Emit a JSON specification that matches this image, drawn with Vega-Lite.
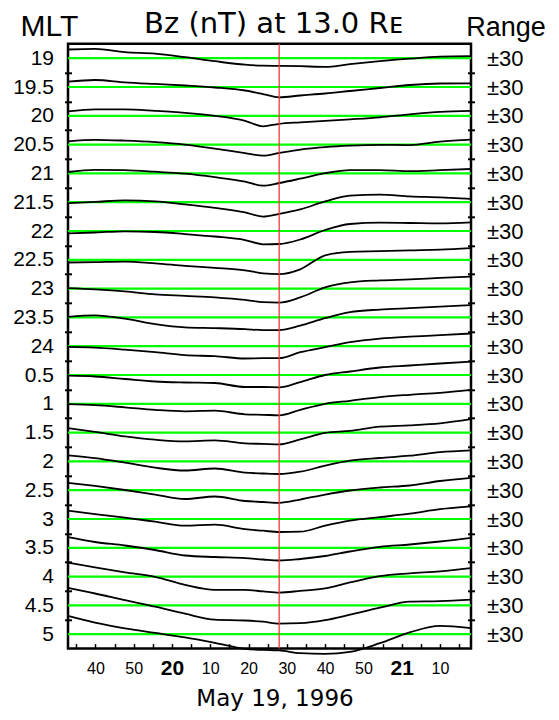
{
  "$schema": "https://vega.github.io/schema/vega-lite/v6.json",
  "width": 403,
  "height": 604.8,
  "autosize": "none",
  "padding": {"left": 68, "top": 43.8, "right": 88, "bottom": 71.4},
  "background": "white",
  "config": {"view": {"stroke": "black", "strokeWidth": 2.5}, "axis": {"grid": false}},
  "title": {"text": "Bz (nT) at 13.0 R\u1d07", "font": "DejaVu Sans", "fontSize": 29, "fontWeight": "normal", "color": "black", "anchor": "middle", "frame": "group", "dx": 4, "offset": 8, "dy": 36},
  "datasets": {
    "rows": [{"mlt":19},{"mlt":19.5},{"mlt":20},{"mlt":20.5},{"mlt":21},{"mlt":21.5},{"mlt":22},{"mlt":22.5},{"mlt":23},{"mlt":23.5},{"mlt":24},{"mlt":0.5},{"mlt":1},{"mlt":1.5},{"mlt":2},{"mlt":2.5},{"mlt":3},{"mlt":3.5},{"mlt":4},{"mlt":4.5},{"mlt":5}],
    "events": [{"min": 88.0}],
    "bz": [
{"mlt":19,"min":32.85,"bz":18.1},{"mlt":19,"min":39.9,"bz":19.4},{"mlt":19,"min":47.7,"bz":12.5},{"mlt":19,"min":55.6,"bz":9.4},{"mlt":19,"min":63.4,"bz":2.1},{"mlt":19,"min":71.2,"bz":-6.3},{"mlt":19,"min":79.1,"bz":-13.5},{"mlt":19,"min":83.8,"bz":-15.6},{"mlt":19,"min":88.0,"bz":-16.0},{"mlt":19,"min":93.5,"bz":-16.7},{"mlt":19,"min":100.0,"bz":-18.1},{"mlt":19,"min":106.5,"bz":-12.5},{"mlt":19,"min":114.3,"bz":-6.3},{"mlt":19,"min":122.1,"bz":-1.0},{"mlt":19,"min":130.0,"bz":3.1},{"mlt":19,"min":138.1,"bz":4.2},
{"mlt":19.5,"min":32.85,"bz":11.0},{"mlt":19.5,"min":39.9,"bz":14.6},{"mlt":19.5,"min":47.7,"bz":9.8},{"mlt":19.5,"min":55.6,"bz":6.3},{"mlt":19.5,"min":63.4,"bz":3.1},{"mlt":19.5,"min":71.2,"bz":-1.0},{"mlt":19.5,"min":79.1,"bz":-7.3},{"mlt":19.5,"min":83.8,"bz":-14.6},{"mlt":19.5,"min":88.0,"bz":-21.5},{"mlt":19.5,"min":93.5,"bz":-17.7},{"mlt":19.5,"min":100.0,"bz":-13.5},{"mlt":19.5,"min":106.5,"bz":-8.3},{"mlt":19.5,"min":114.3,"bz":-2.1},{"mlt":19.5,"min":122.1,"bz":4.2},{"mlt":19.5,"min":130.0,"bz":7.3},{"mlt":19.5,"min":138.1,"bz":7.7},
{"mlt":20,"min":32.85,"bz":9.0},{"mlt":20,"min":39.9,"bz":13.5},{"mlt":20,"min":47.7,"bz":13.5},{"mlt":20,"min":55.6,"bz":10.4},{"mlt":20,"min":63.4,"bz":6.3},{"mlt":20,"min":71.2,"bz":0.0},{"mlt":20,"min":79.1,"bz":-10.4},{"mlt":20,"min":83.8,"bz":-21.9},{"mlt":20,"min":88.0,"bz":-16.7},{"mlt":20,"min":93.5,"bz":-13.5},{"mlt":20,"min":100.0,"bz":-10.4},{"mlt":20,"min":106.5,"bz":-7.3},{"mlt":20,"min":114.3,"bz":-3.1},{"mlt":20,"min":122.1,"bz":3.1},{"mlt":20,"min":130.0,"bz":8.3},{"mlt":20,"min":138.1,"bz":10.4},
{"mlt":20.5,"min":32.85,"bz":6.9},{"mlt":20.5,"min":39.9,"bz":10.0},{"mlt":20.5,"min":47.7,"bz":8.3},{"mlt":20.5,"min":55.6,"bz":5.2},{"mlt":20.5,"min":63.4,"bz":0.0},{"mlt":20.5,"min":71.2,"bz":-8.3},{"mlt":20.5,"min":79.1,"bz":-17.7},{"mlt":20.5,"min":83.8,"bz":-22.9},{"mlt":20.5,"min":88.0,"bz":-17.3},{"mlt":20.5,"min":93.5,"bz":-10.4},{"mlt":20.5,"min":100.0,"bz":-5.2},{"mlt":20.5,"min":106.5,"bz":-2.1},{"mlt":20.5,"min":114.3,"bz":-0.4},{"mlt":20.5,"min":122.1,"bz":-1.0},{"mlt":20.5,"min":130.0,"bz":6.3},{"mlt":20.5,"min":138.1,"bz":10.4},
{"mlt":21,"min":32.85,"bz":2.9},{"mlt":21,"min":39.9,"bz":7.3},{"mlt":21,"min":47.7,"bz":6.7},{"mlt":21,"min":55.6,"bz":3.5},{"mlt":21,"min":63.4,"bz":-0.6},{"mlt":21,"min":71.2,"bz":-7.9},{"mlt":21,"min":79.1,"bz":-17.3},{"mlt":21,"min":83.8,"bz":-25.6},{"mlt":21,"min":88.0,"bz":-20.0},{"mlt":21,"min":93.5,"bz":-11.0},{"mlt":21,"min":100.0,"bz":0.4},{"mlt":21,"min":106.5,"bz":6.7},{"mlt":21,"min":114.3,"bz":6.7},{"mlt":21,"min":122.1,"bz":4.6},{"mlt":21,"min":130.0,"bz":6.7},{"mlt":21,"min":138.1,"bz":9.2},
{"mlt":21.5,"min":32.85,"bz":-2.1},{"mlt":21.5,"min":39.9,"bz":0.6},{"mlt":21.5,"min":47.7,"bz":3.8},{"mlt":21.5,"min":55.6,"bz":1.7},{"mlt":21.5,"min":63.4,"bz":-4.6},{"mlt":21.5,"min":71.2,"bz":-11.9},{"mlt":21.5,"min":79.1,"bz":-21.3},{"mlt":21.5,"min":83.8,"bz":-30.0},{"mlt":21.5,"min":88.0,"bz":-24.4},{"mlt":21.5,"min":93.5,"bz":-15.0},{"mlt":21.5,"min":100.0,"bz":1.7},{"mlt":21.5,"min":106.5,"bz":13.8},{"mlt":21.5,"min":114.3,"bz":15.6},{"mlt":21.5,"min":122.1,"bz":12.1},{"mlt":21.5,"min":130.0,"bz":10.0},{"mlt":21.5,"min":138.1,"bz":6.9},
{"mlt":22,"min":32.85,"bz":-4.8},{"mlt":22,"min":39.9,"bz":-3.1},{"mlt":22,"min":47.7,"bz":-0.6},{"mlt":22,"min":55.6,"bz":-2.1},{"mlt":22,"min":63.4,"bz":-6.3},{"mlt":22,"min":71.2,"bz":-11.5},{"mlt":22,"min":79.1,"bz":-18.8},{"mlt":22,"min":83.8,"bz":-27.7},{"mlt":22,"min":88.0,"bz":-27.1},{"mlt":22,"min":93.5,"bz":-17.7},{"mlt":22,"min":100.0,"bz":2.1},{"mlt":22,"min":106.5,"bz":14.6},{"mlt":22,"min":114.3,"bz":17.3},{"mlt":22,"min":122.1,"bz":16.7},{"mlt":22,"min":130.0,"bz":16.0},{"mlt":22,"min":138.1,"bz":18.1},
{"mlt":22.5,"min":32.85,"bz":-5.6},{"mlt":22.5,"min":39.9,"bz":-4.8},{"mlt":22.5,"min":47.7,"bz":-3.8},{"mlt":22.5,"min":55.6,"bz":-7.3},{"mlt":22.5,"min":63.4,"bz":-12.5},{"mlt":22.5,"min":71.2,"bz":-16.7},{"mlt":22.5,"min":79.1,"bz":-21.9},{"mlt":22.5,"min":83.8,"bz":-28.1},{"mlt":22.5,"min":88.0,"bz":-29.8},{"mlt":22.5,"min":93.5,"bz":-19.8},{"mlt":22.5,"min":100.0,"bz":9.4},{"mlt":22.5,"min":106.5,"bz":16.7},{"mlt":22.5,"min":114.3,"bz":18.1},{"mlt":22.5,"min":122.1,"bz":19.8},{"mlt":22.5,"min":130.0,"bz":21.3},{"mlt":22.5,"min":138.1,"bz":24.4},
{"mlt":23,"min":32.85,"bz":0.8},{"mlt":23,"min":39.9,"bz":-1.7},{"mlt":23,"min":47.7,"bz":-5.8},{"mlt":23,"min":55.6,"bz":-12.1},{"mlt":23,"min":63.4,"bz":-15.2},{"mlt":23,"min":71.2,"bz":-18.3},{"mlt":23,"min":79.1,"bz":-23.5},{"mlt":23,"min":83.8,"bz":-28.3},{"mlt":23,"min":88.0,"bz":-29.2},{"mlt":23,"min":93.5,"bz":-18.3},{"mlt":23,"min":100.0,"bz":2.5},{"mlt":23,"min":106.5,"bz":12.9},{"mlt":23,"min":114.3,"bz":17.1},{"mlt":23,"min":122.1,"bz":19.2},{"mlt":23,"min":130.0,"bz":22.3},{"mlt":23,"min":138.1,"bz":25.0},
{"mlt":23.5,"min":32.85,"bz":1.3},{"mlt":23.5,"min":39.9,"bz":4.4},{"mlt":23.5,"min":47.7,"bz":-2.5},{"mlt":23.5,"min":55.6,"bz":-14.0},{"mlt":23.5,"min":63.4,"bz":-20.8},{"mlt":23.5,"min":71.2,"bz":-22.3},{"mlt":23.5,"min":79.1,"bz":-24.4},{"mlt":23.5,"min":83.8,"bz":-26.5},{"mlt":23.5,"min":88.0,"bz":-26.5},{"mlt":23.5,"min":93.5,"bz":-17.1},{"mlt":23.5,"min":100.0,"bz":-1.5},{"mlt":23.5,"min":106.5,"bz":11.0},{"mlt":23.5,"min":114.3,"bz":16.3},{"mlt":23.5,"min":122.1,"bz":19.4},{"mlt":23.5,"min":130.0,"bz":22.5},{"mlt":23.5,"min":138.1,"bz":25.6},
{"mlt":24,"min":32.85,"bz":-1.5},{"mlt":24,"min":39.9,"bz":-3.1},{"mlt":24,"min":47.7,"bz":-7.3},{"mlt":24,"min":55.6,"bz":-12.5},{"mlt":24,"min":63.4,"bz":-18.8},{"mlt":24,"min":71.2,"bz":-20.8},{"mlt":24,"min":79.1,"bz":-25.6},{"mlt":24,"min":83.8,"bz":-25.0},{"mlt":24,"min":88.0,"bz":-25.0},{"mlt":24,"min":93.5,"bz":-12.5},{"mlt":24,"min":100.0,"bz":-2.1},{"mlt":24,"min":106.5,"bz":8.3},{"mlt":24,"min":114.3,"bz":15.6},{"mlt":24,"min":122.1,"bz":19.8},{"mlt":24,"min":130.0,"bz":22.9},{"mlt":24,"min":138.1,"bz":26.5},
{"mlt":0.5,"min":32.85,"bz":-1.5},{"mlt":0.5,"min":39.9,"bz":-3.1},{"mlt":0.5,"min":47.7,"bz":-8.3},{"mlt":0.5,"min":55.6,"bz":-13.5},{"mlt":0.5,"min":63.4,"bz":-15.6},{"mlt":0.5,"min":71.2,"bz":-16.7},{"mlt":0.5,"min":79.1,"bz":-25.0},{"mlt":0.5,"min":83.8,"bz":-25.0},{"mlt":0.5,"min":88.0,"bz":-25.6},{"mlt":0.5,"min":93.5,"bz":-14.6},{"mlt":0.5,"min":100.0,"bz":0.0},{"mlt":0.5,"min":106.5,"bz":7.3},{"mlt":0.5,"min":114.3,"bz":15.6},{"mlt":0.5,"min":122.1,"bz":19.8},{"mlt":0.5,"min":130.0,"bz":24.0},{"mlt":0.5,"min":138.1,"bz":27.7},
{"mlt":1,"min":32.85,"bz":-0.6},{"mlt":1,"min":39.9,"bz":-2.7},{"mlt":1,"min":47.7,"bz":-7.3},{"mlt":1,"min":55.6,"bz":-12.5},{"mlt":1,"min":63.4,"bz":-15.6},{"mlt":1,"min":71.2,"bz":-14.2},{"mlt":1,"min":79.1,"bz":-21.9},{"mlt":1,"min":83.8,"bz":-22.9},{"mlt":1,"min":88.0,"bz":-24.0},{"mlt":1,"min":93.5,"bz":-12.5},{"mlt":1,"min":100.0,"bz":0.0},{"mlt":1,"min":106.5,"bz":6.3},{"mlt":1,"min":114.3,"bz":14.0},{"mlt":1,"min":122.1,"bz":18.8},{"mlt":1,"min":130.0,"bz":22.9},{"mlt":1,"min":138.1,"bz":29.2},
{"mlt":1.5,"min":32.85,"bz":9.2},{"mlt":1.5,"min":39.9,"bz":1.5},{"mlt":1.5,"min":47.7,"bz":-7.9},{"mlt":1.5,"min":55.6,"bz":-14.8},{"mlt":1.5,"min":63.4,"bz":-18.3},{"mlt":1.5,"min":71.2,"bz":-16.3},{"mlt":1.5,"min":79.1,"bz":-22.5},{"mlt":1.5,"min":83.8,"bz":-23.5},{"mlt":1.5,"min":88.0,"bz":-24.6},{"mlt":1.5,"min":93.5,"bz":-14.2},{"mlt":1.5,"min":100.0,"bz":-0.6},{"mlt":1.5,"min":106.5,"bz":3.5},{"mlt":1.5,"min":114.3,"bz":12.3},{"mlt":1.5,"min":122.1,"bz":15.0},{"mlt":1.5,"min":130.0,"bz":19.2},{"mlt":1.5,"min":138.1,"bz":27.9},
{"mlt":2,"min":32.85,"bz":12.5},{"mlt":2,"min":39.9,"bz":6.7},{"mlt":2,"min":47.7,"bz":-2.7},{"mlt":2,"min":55.6,"bz":-13.1},{"mlt":2,"min":63.4,"bz":-19.0},{"mlt":2,"min":71.2,"bz":-14.8},{"mlt":2,"min":79.1,"bz":-23.5},{"mlt":2,"min":83.8,"bz":-25.2},{"mlt":2,"min":88.0,"bz":-26.3},{"mlt":2,"min":93.5,"bz":-21.5},{"mlt":2,"min":100.0,"bz":-9.0},{"mlt":2,"min":106.5,"bz":1.5},{"mlt":2,"min":114.3,"bz":7.1},{"mlt":2,"min":122.1,"bz":11.9},{"mlt":2,"min":130.0,"bz":19.2},{"mlt":2,"min":138.1,"bz":22.9},
{"mlt":2.5,"min":32.85,"bz":15.4},{"mlt":2.5,"min":39.9,"bz":8.8},{"mlt":2.5,"min":47.7,"bz":0.4},{"mlt":2.5,"min":55.6,"bz":-9.0},{"mlt":2.5,"min":63.4,"bz":-18.3},{"mlt":2.5,"min":71.2,"bz":-13.1},{"mlt":2.5,"min":79.1,"bz":-22.5},{"mlt":2.5,"min":83.8,"bz":-24.6},{"mlt":2.5,"min":88.0,"bz":-26.3},{"mlt":2.5,"min":93.5,"bz":-19.4},{"mlt":2.5,"min":100.0,"bz":-9.0},{"mlt":2.5,"min":106.5,"bz":-0.6},{"mlt":2.5,"min":114.3,"bz":5.6},{"mlt":2.5,"min":122.1,"bz":9.8},{"mlt":2.5,"min":130.0,"bz":19.2},{"mlt":2.5,"min":138.1,"bz":25.8},
{"mlt":3,"min":32.85,"bz":17.3},{"mlt":3,"min":39.9,"bz":10.0},{"mlt":3,"min":47.7,"bz":2.7},{"mlt":3,"min":55.6,"bz":-5.6},{"mlt":3,"min":63.4,"bz":-14.0},{"mlt":3,"min":71.2,"bz":-11.9},{"mlt":3,"min":79.1,"bz":-21.3},{"mlt":3,"min":83.8,"bz":-24.4},{"mlt":3,"min":88.0,"bz":-27.1},{"mlt":3,"min":93.5,"bz":-26.5},{"mlt":3,"min":100.0,"bz":-14.0},{"mlt":3,"min":106.5,"bz":-3.5},{"mlt":3,"min":114.3,"bz":3.8},{"mlt":3,"min":122.1,"bz":11.0},{"mlt":3,"min":130.0,"bz":20.4},{"mlt":3,"min":138.1,"bz":26.3},
{"mlt":3.5,"min":32.85,"bz":22.1},{"mlt":3.5,"min":39.9,"bz":12.1},{"mlt":3.5,"min":47.7,"bz":4.8},{"mlt":3.5,"min":55.6,"bz":-4.6},{"mlt":3.5,"min":63.4,"bz":-16.0},{"mlt":3.5,"min":71.2,"bz":-19.2},{"mlt":3.5,"min":79.1,"bz":-21.3},{"mlt":3.5,"min":83.8,"bz":-24.4},{"mlt":3.5,"min":88.0,"bz":-26.5},{"mlt":3.5,"min":93.5,"bz":-23.3},{"mlt":3.5,"min":100.0,"bz":-17.1},{"mlt":3.5,"min":106.5,"bz":-7.7},{"mlt":3.5,"min":114.3,"bz":2.1},{"mlt":3.5,"min":122.1,"bz":6.9},{"mlt":3.5,"min":130.0,"bz":13.1},{"mlt":3.5,"min":138.1,"bz":20.8},
{"mlt":4,"min":32.85,"bz":29.2},{"mlt":4,"min":39.9,"bz":19.2},{"mlt":4,"min":47.7,"bz":8.8},{"mlt":4,"min":55.6,"bz":-0.6},{"mlt":4,"min":63.4,"bz":-17.3},{"mlt":4,"min":71.2,"bz":-27.7},{"mlt":4,"min":79.1,"bz":-27.7},{"mlt":4,"min":83.8,"bz":-30.8},{"mlt":4,"min":88.0,"bz":-33.3},{"mlt":4,"min":93.5,"bz":-29.8},{"mlt":4,"min":100.0,"bz":-24.6},{"mlt":4,"min":106.5,"bz":-12.1},{"mlt":4,"min":114.3,"bz":1.0},{"mlt":4,"min":122.1,"bz":6.7},{"mlt":4,"min":130.0,"bz":10.8},{"mlt":4,"min":138.1,"bz":17.5},
{"mlt":4.5,"min":32.85,"bz":36.3},{"mlt":4.5,"min":39.9,"bz":24.8},{"mlt":4.5,"min":47.7,"bz":10.8},{"mlt":4.5,"min":55.6,"bz":-2.7},{"mlt":4.5,"min":63.4,"bz":-17.3},{"mlt":4.5,"min":71.2,"bz":-29.8},{"mlt":4.5,"min":79.1,"bz":-31.5},{"mlt":4.5,"min":83.8,"bz":-34.0},{"mlt":4.5,"min":88.0,"bz":-38.1},{"mlt":4.5,"min":93.5,"bz":-37.1},{"mlt":4.5,"min":100.0,"bz":-30.8},{"mlt":4.5,"min":106.5,"bz":-19.4},{"mlt":4.5,"min":114.3,"bz":-4.8},{"mlt":4.5,"min":122.1,"bz":7.7},{"mlt":4.5,"min":130.0,"bz":8.8},{"mlt":4.5,"min":138.1,"bz":11.9},
{"mlt":5,"min":32.85,"bz":38.1},{"mlt":5,"min":39.9,"bz":24.0},{"mlt":5,"min":47.7,"bz":12.1},{"mlt":5,"min":55.6,"bz":2.7},{"mlt":5,"min":63.4,"bz":-6.7},{"mlt":5,"min":71.2,"bz":-18.1},{"mlt":5,"min":79.1,"bz":-30.6},{"mlt":5,"min":83.8,"bz":-32.7},{"mlt":5,"min":88.0,"bz":-33.8},{"mlt":5,"min":93.5,"bz":-39.6},{"mlt":5,"min":100.0,"bz":-41.0},{"mlt":5,"min":106.5,"bz":-36.9},{"mlt":5,"min":114.3,"bz":-18.8},{"mlt":5,"min":122.1,"bz":3.8},{"mlt":5,"min":130.0,"bz":17.3},{"mlt":5,"min":138.1,"bz":12.5}
    ]
  },
  "resolve": {"axis": {"x": "independent", "y": "independent"}},
  "layer": [
    {
      "data": {"name": "rows"},
      "transform": [{"calculate": "((datum.mlt + 5) % 24) * 2 + 0.5", "as": "yc"}],
      "mark": {"type": "rule", "color": "#00ff00", "strokeWidth": 2.2},
      "encoding": {
        "y": {"field": "yc", "type": "quantitative",
          "scale": {"domain": [0, 21], "reverse": true, "nice": false, "zero": false},
          "axis": {
            "orient": "left",
            "values": [0.5,1,1.5,2,2.5,3,3.5,4,4.5,5,5.5,6,6.5,7,7.5,8,8.5,9,9.5,10,10.5,11,11.5,12,12.5,13,13.5,14,14.5,15,15.5,16,16.5,17,17.5,18,18.5,19,19.5,20,20.5],
            "domain": false, "offset": -3.5, "tickSize": 7, "tickWidth": 2, "tickColor": "black",
            "tickOpacity": {"condition": {"test": "datum.value % 1 == 0", "value": 1}, "value": 0},
            "labelExpr": "datum.value % 1 == 0 ? '' : ['19','19.5','20','20.5','21','21.5','22','22.5','23','23.5','24','0.5','1','1.5','2','2.5','3','3.5','4','4.5','5'][floor(datum.value)]",
            "labelFont": "Liberation Sans", "labelFontSize": 21, "labelColor": "black", "labelPadding": 11,
            "labelBaseline": "middle", "labelAlign": "right", "labelOverlap": false, "labelBound": false, "labelFlush": false,
            "title": "MLT", "titleAngle": 0, "titleFont": "Liberation Sans", "titleFontSize": 30, "titleFontWeight": "normal", "titleColor": "black",
            "titleX": -22.5, "titleY": -8.8, "titleAlign": "center", "titleBaseline": "alphabetic", "grid": false
          }
        }
      }
    },
    {
      "data": {"name": "bz"},
      "transform": [{"calculate": "((datum.mlt + 5) % 24) * 2 + 0.5 - datum.bz / 60", "as": "yy"}],
      "mark": {"type": "line", "color": "black", "strokeWidth": 1.8, "interpolate": "monotone", "clip": false},
      "encoding": {
        "detail": {"field": "mlt", "type": "nominal"},
        "x": {"field": "min", "type": "quantitative",
          "scale": {"domain": [32.85, 138.1], "nice": false, "zero": false},
          "axis": {
            "orient": "bottom",
            "values": [35,40,45,50,55,60,65,70,75,80,85,90,95,100,105,110,115,120,125,130,135],
            "domain": false, "offset": -5, "tickSize": 5, "tickWidth": 1.5, "tickColor": "black",
            "labelExpr": "(datum.value % 10 != 0 || datum.value % 60 == 0) ? '' : '' + (datum.value % 60)",
            "labelFont": "Liberation Sans", "labelColor": "black", "labelFontSize": 16, "labelFontWeight": "normal",
            "labelBaseline": "middle", "labelPadding": 20, "labelOverlap": false, "labelBound": false, "labelFlush": false,
            "title": "May 19, 1996", "titleFont": "DejaVu Sans", "titleFontSize": 23, "titleFontWeight": "normal", "titleColor": "black",
            "titleX": 206.5, "titleY": 62, "titleAlign": "center", "titleBaseline": "alphabetic", "grid": false
          }
        },
        "y": {"field": "yy", "type": "quantitative",
          "scale": {"domain": [0, 21], "reverse": true, "nice": false, "zero": false},
          "axis": {
            "orient": "right",
            "values": [0.5,1,1.5,2,2.5,3,3.5,4,4.5,5,5.5,6,6.5,7,7.5,8,8.5,9,9.5,10,10.5,11,11.5,12,12.5,13,13.5,14,14.5,15,15.5,16,16.5,17,17.5,18,18.5,19,19.5,20,20.5],
            "domain": false, "offset": -3.5, "tickSize": 7, "tickWidth": 2, "tickColor": "black",
            "tickOpacity": {"condition": {"test": "datum.value % 1 == 0", "value": 1}, "value": 0},
            "labelExpr": "datum.value % 1 == 0 ? '' : '\u00b130'",
            "labelFont": "Liberation Sans", "labelFontSize": 22, "labelColor": "black", "labelPadding": 12,
            "labelBaseline": "middle", "labelAlign": "left", "labelOverlap": false, "labelBound": false, "labelFlush": false,
            "title": "Range", "titleAngle": 0, "titleFont": "Liberation Sans", "titleFontSize": 27, "titleFontWeight": "normal", "titleColor": "black",
            "titleX": 38, "titleY": -8.8, "titleAlign": "center", "titleBaseline": "alphabetic", "grid": false
          }
        }
      }
    },
    {
      "data": {"name": "events"},
      "mark": {"type": "rule", "color": "#f03c3c", "strokeWidth": 1.3},
      "encoding": {"x": {"field": "min", "type": "quantitative",
        "axis": {
          "orient": "bottom", "values": [60, 120], "domain": false, "ticks": false, "offset": -5,
          "labelExpr": "'' + (19 + datum.value / 60)",
          "labelFont": "Liberation Sans", "labelColor": "black", "labelFontSize": 21, "labelFontWeight": "bold",
          "labelBaseline": "middle", "labelPadding": 25, "labelOverlap": false, "labelBound": false, "labelFlush": false,
          "title": null, "grid": false
        }}}
    }
  ]
}
